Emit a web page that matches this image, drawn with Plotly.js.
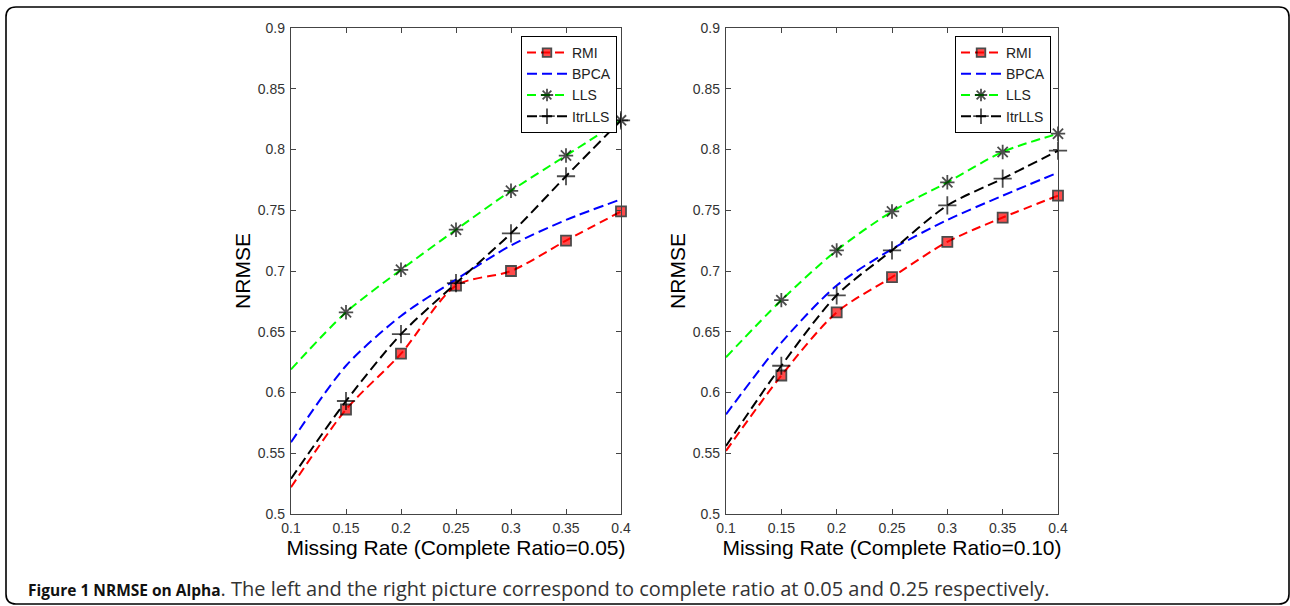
<!DOCTYPE html>
<html>
<head>
<meta charset="utf-8">
<script src="https://cdn.plot.ly/plotly-3.0.1.min.js"></script>
<style>
html,body{margin:0;padding:0;background:#fff;}
#chart{width:1290px;height:606px;}
</style>
</head>
<body>
<div id="chart"></div>
<script>
// ---- data ----
var missingRate = [0.1, 0.15, 0.2, 0.25, 0.3, 0.35, 0.4];
var xTickText = ["0.1", "0.15", "0.2", "0.25", "0.3", "0.35", "0.4"];
var yTickVals = [0.5, 0.55, 0.6, 0.65, 0.7, 0.75, 0.8, 0.85, 0.9];
var yTickText = ["0.5", "0.55", "0.6", "0.65", "0.7", "0.75", "0.8", "0.85", "0.9"];
var seriesNames = ["RMI", "BPCA", "LLS", "ItrLLS"];

// Complete Ratio = 0.05 (left)
var rmiLeft    = [0.522, 0.586, 0.632, 0.688, 0.700, 0.725, 0.749];
var bpcaLeft   = [0.559, 0.622, 0.663, 0.693, 0.721, 0.742, 0.759];
var llsLeft    = [0.619, 0.666, 0.701, 0.734, 0.766, 0.795, 0.824];
var itrllsLeft = [0.529, 0.593, 0.648, 0.690, 0.731, 0.778, 0.824];

// Complete Ratio = 0.10 (right)
var rmiRight    = [0.552, 0.614, 0.666, 0.695, 0.724, 0.744, 0.762];
var bpcaRight   = [0.582, 0.641, 0.688, 0.718, 0.742, 0.762, 0.781];
var llsRight    = [0.629, 0.676, 0.717, 0.749, 0.773, 0.798, 0.813];
var itrllsRight = [0.556, 0.622, 0.680, 0.717, 0.754, 0.776, 0.799];

var xTitleLeft = "Missing Rate (Complete Ratio=0.05)";
var xTitleRight = "Missing Rate (Complete Ratio=0.10)";
var yTitle = "NRMSE";
var captionBold = "Figure 1 NRMSE on Alpha";
var captionRest = ". The left and the right picture correspond to complete ratio at 0.05 and 0.25 respectively.";

// ---- layout helpers ----
var W = 1290, H = 606;
function px(x){ return x / W; }
function py(y){ return 1 - y / H; }

var styles = [
  {color: "#ff0000", symbol: "square", fill: "#ff0000", lineColor: "#000", size: 10, lw: 1.8, dash: "9px,5px"},
  {color: "#0000ff", symbol: null, dash: "10px,5px"},
  {color: "#00ff00", symbol: "asterisk-open", fill: "#000", lineColor: "#000", size: 12, lw: 1.8, dash: "9px,5px"},
  {color: "#000000", symbol: "cross-thin-open", fill: "#000", lineColor: "#000", size: 13, lw: 1.8, dash: "10px,5px"}
];

function makeTraces(values, xa, ya, legendName){
  return values.map(function(v, i){
    var s = styles[i];
    var t = {
      x: missingRate, y: v, xaxis: xa, yaxis: ya,
      name: seriesNames[i], legend: legendName,
      type: "scatter", cliponaxis: false,
      line: {color: s.color, width: 2, dash: s.dash, shape: "spline", smoothing: 0.8},
      hoverinfo: "none"
    };
    if (s.symbol) {
      t.mode = "lines+markers";
      t.marker = {
        symbol: s.symbol,
        color: s.fill,
        size: missingRate.map(function(x, j){ return j === 0 ? 0 : s.size; }),
        line: {color: s.lineColor, width: s.lw}
      };
    } else {
      t.mode = "lines";
    }
    return t;
  });
}

var traces = []
  .concat(makeTraces([rmiLeft, bpcaLeft, llsLeft, itrllsLeft], "x", "y", "legend"))
  .concat(makeTraces([rmiRight, bpcaRight, llsRight, itrllsRight], "x2", "y2", "legend2"));

var axisFont = {family: "Liberation Sans, Arial, sans-serif", size: 14, color: "#333"};
var titleFont = {family: "Liberation Sans, Arial, sans-serif", size: 21, color: "#000"};

function xAxis(domain, title, yref){
  return {
    domain: domain, range: [0.1, 0.4], anchor: yref,
    tickvals: missingRate, ticktext: xTickText,
    ticks: "inside", ticklen: 5, tickcolor: "#444", tickwidth: 1,
    showline: true, linecolor: "#444", linewidth: 1.2, mirror: "ticks",
    showgrid: false, zeroline: false, fixedrange: true,
    tickfont: axisFont, ticklabelstandoff: 1,
    title: {text: title, font: titleFont, standoff: 3}
  };
}
function yAxis(domain, xref){
  return {
    domain: domain, range: [0.5, 0.9], anchor: xref,
    tickvals: yTickVals, ticktext: yTickText,
    ticks: "inside", ticklen: 5, tickcolor: "#444", tickwidth: 1,
    showline: true, linecolor: "#444", linewidth: 1.2, mirror: "ticks",
    showgrid: false, zeroline: false, fixedrange: true,
    tickfont: axisFont, ticklabelstandoff: 2,
    title: {text: yTitle, font: titleFont, standoff: 1}
  };
}

var yDom = [py(514), py(28)];
var legendCommon = {
  bgcolor: "#fff", bordercolor: "#000", borderwidth: 1,
  font: {family: "Liberation Sans, Arial, sans-serif", size: 14, color: "#222"},
  xref: "paper", yref: "paper", xanchor: "right", yanchor: "top",
  tracegroupgap: 0, itemwidth: 40
};

var r = 10;
var fx0 = 6, fy0 = 7, fx1 = 1289, fy1 = 604;
var framePath =
  "M " + px(fx0) + "," + py(fy0 + r) +
  " Q " + px(fx0) + "," + py(fy0) + " " + px(fx0 + r) + "," + py(fy0) +
  " L " + px(fx1 - r) + "," + py(fy0) +
  " Q " + px(fx1) + "," + py(fy0) + " " + px(fx1) + "," + py(fy0 + r) +
  " L " + px(fx1) + "," + py(fy1 - r) +
  " Q " + px(fx1) + "," + py(fy1) + " " + px(fx1 - r) + "," + py(fy1) +
  " L " + px(fx0 + r) + "," + py(fy1) +
  " Q " + px(fx0) + "," + py(fy1) + " " + px(fx0) + "," + py(fy1 - r) + " Z";

var layout = {
  width: W, height: H,
  margin: {l: 0, r: 0, t: 0, b: 0},
  paper_bgcolor: "#fff", plot_bgcolor: "#fff",
  showlegend: true,
  xaxis: xAxis([px(291), px(621)], xTitleLeft, "y"),
  yaxis: yAxis(yDom, "x"),
  xaxis2: xAxis([px(726), px(1058)], xTitleRight, "y2"),
  yaxis2: yAxis(yDom, "x2"),
  legend: Object.assign({}, legendCommon, {x: px(617), y: py(36)}),
  legend2: Object.assign({}, legendCommon, {x: px(1051), y: py(36)}),
  shapes: [{
    type: "path", xref: "paper", yref: "paper", path: framePath,
    line: {color: "#000", width: 1.6}, fillcolor: "rgba(0,0,0,0)", layer: "below"
  }],
  annotations: [{
    xref: "paper", yref: "paper", x: px(26), y: py(588),
    xanchor: "left", yanchor: "middle", showarrow: false,
    text: "<b>" + captionBold + "</b><span style=\"font-size:20px;color:#333\">" + captionRest + "</span>",
    font: {family: "Open Sans, sans-serif", size: 15.5, color: "#111"}
  }]
};

Plotly.newPlot("chart", traces, layout, {displayModeBar: false, staticPlot: true});
</script>
</body>
</html>
